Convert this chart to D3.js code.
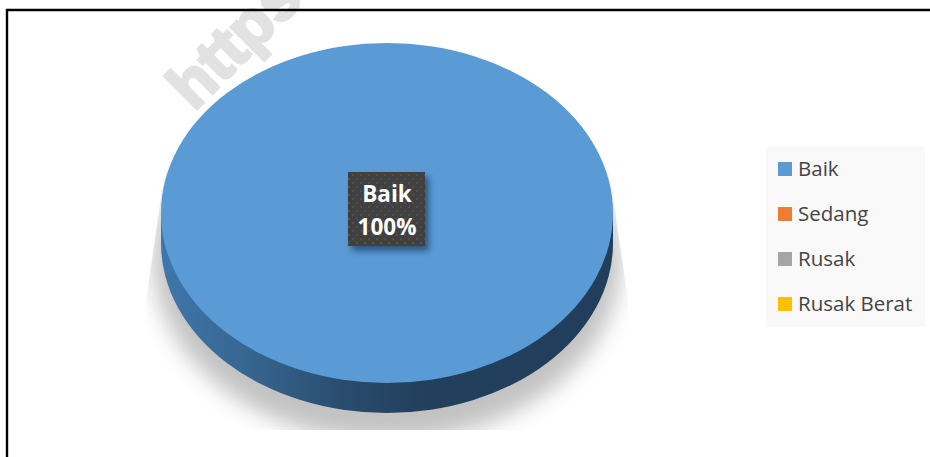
<!DOCTYPE html>
<html>
<head>
<meta charset="utf-8">
<script src="https://cdn.jsdelivr.net/npm/d3@7"></script>
<style>
html, body { margin: 0; padding: 0; background: #fff; }
svg { display: block; }
text { font-family: "Open Sans", sans-serif; }
</style>
</head>
<body>
<div id="chart"></div>
<script>
const categories = ['Baik', 'Sedang', 'Rusak', 'Rusak Berat'];
const values = [100, 0, 0, 0];
const colors = ['#5b9bd5', '#ed7d31', '#a5a5a5', '#ffc000'];

const width = 930, height = 457;
const cx = 387, cy = 213, rx = 226, ry = 170, depth = 30;

const svg = d3.select('#chart').append('svg')
    .attr('width', width)
    .attr('height', height);

const defs = svg.append('defs');

const sideStops = [[0, '#3f77ab'], [0.2, '#36658f'], [0.42, '#284a6b'], [0.6, '#223f5c'], [1, '#213f5c']];

const sideGrad = defs.append('linearGradient')
    .attr('id', 'side-grad')
    .attr('gradientUnits', 'userSpaceOnUse')
    .attr('x1', cx - rx).attr('x2', cx + rx).attr('y1', 0).attr('y2', 0);
// the scaled slices need the same gradient in their own coordinates
const localGrad = defs.append('linearGradient')
    .attr('id', 'side-grad-local')
    .attr('gradientUnits', 'userSpaceOnUse')
    .attr('x1', -rx).attr('x2', rx).attr('y1', 0).attr('y2', 0);
sideStops.forEach(s => {
    sideGrad.append('stop').attr('offset', s[0]).attr('stop-color', s[1]);
    localGrad.append('stop').attr('offset', s[0]).attr('stop-color', s[1]);
});

defs.append('filter').attr('id', 'shadow-blur')
    .attr('x', '-20%').attr('y', '-20%').attr('width', '140%').attr('height', '140%')
    .append('feGaussianBlur').attr('stdDeviation', 11);

const labelShadow = defs.append('filter').attr('id', 'label-shadow')
    .attr('x', '-30%').attr('y', '-30%').attr('width', '160%').attr('height', '160%');
labelShadow.append('feDropShadow')
    .attr('dx', 4).attr('dy', 5).attr('stdDeviation', 3)
    .attr('flood-color', '#1c3f63').attr('flood-opacity', 0.75);

const dots = defs.append('pattern').attr('id', 'dots')
    .attr('width', 8).attr('height', 8)
    .attr('patternUnits', 'userSpaceOnUse');
dots.append('rect').attr('width', 8).attr('height', 8).attr('fill', '#404040');
dots.append('circle').attr('cx', 2).attr('cy', 2).attr('r', 1).attr('fill', '#555555');
dots.append('circle').attr('cx', 6).attr('cy', 6).attr('r', 1).attr('fill', '#555555');

defs.append('clipPath').attr('id', 'shadow-clip')
    .append('path')
    .attr('d', `M${cx - 222},170 L${cx - 241},300 L${cx - 241},430 L${cx + 241},430 L${cx + 241},300 L${cx + 222},170 Z`);

// watermark sits behind everything
svg.append('text')
    .attr('transform', 'translate(194,112) rotate(-45)')
    .attr('fill', '#e2e2e2')
    .attr('stroke', '#e2e2e2')
    .attr('stroke-width', 3)
    .style('font-family', '"Liberation Sans", sans-serif')
    .style('font-weight', 700)
    .style('font-size', '64px')
    .text('https');

// frame: top and left only
svg.append('path')
    .attr('d', `M7,${height} V10 H${width}`)
    .attr('fill', 'none')
    .attr('stroke', '#000')
    .attr('stroke-width', 2.4);

const pie = d3.pie().sort(null).value(d => d);
const arcs = pie(values);
const arc = d3.arc().innerRadius(0).outerRadius(rx);
const yScale = ry / rx;

// soft shadow under the disc
svg.append('g')
    .attr('clip-path', 'url(#shadow-clip)')
    .append('ellipse')
    .attr('cx', cx).attr('cy', cy + depth + 16)
    .attr('rx', rx + 8).attr('ry', ry + 12)
    .attr('fill', '#c2c2c2')
    .attr('filter', 'url(#shadow-blur)');

// disc edge: same slices pushed down, joined by a band
const side = svg.append('g');
side.append('rect')
    .attr('x', cx - rx).attr('y', cy)
    .attr('width', rx * 2).attr('height', depth)
    .attr('fill', 'url(#side-grad)');
side.selectAll('path').data(arcs).join('path')
    .attr('transform', `translate(${cx},${cy + depth}) scale(1,${yScale})`)
    .attr('d', arc)
    .attr('fill', 'url(#side-grad-local)');

// top of the disc
svg.append('g')
    .attr('transform', `translate(${cx},${cy}) scale(1,${yScale})`)
    .selectAll('path').data(arcs).join('path')
    .attr('d', arc)
    .attr('fill', (d, i) => colors[i]);

// data label
const labelW = 77, labelH = 74;
const first = arcs[0];
const label = svg.append('g').attr('transform', `translate(${cx},${cy - 4})`);
label.append('rect')
    .attr('x', -labelW / 2 - 0.5).attr('y', -labelH / 2)
    .attr('width', labelW).attr('height', labelH)
    .attr('fill', 'url(#dots)')
    .attr('filter', 'url(#label-shadow)');
label.append('text')
    .attr('text-anchor', 'middle').attr('y', -7)
    .attr('fill', '#fff')
    .style('font-size', '22.5px').style('font-weight', 700)
    .text(categories[0]);
label.append('text')
    .attr('text-anchor', 'middle').attr('y', 26)
    .attr('fill', '#fff')
    .style('font-size', '22.5px').style('font-weight', 700)
    .text(`${Math.round((first.endAngle - first.startAngle) / (2 * Math.PI) * 100)}%`);

// legend
svg.append('rect')
    .attr('x', 766).attr('y', 146)
    .attr('width', 159).attr('height', 181)
    .attr('fill', '#f9f9f9');

const legendY = d3.scalePoint().domain(categories).range([169, 304]);
const colorScale = d3.scaleOrdinal().domain(categories).range(colors);

const item = svg.selectAll('.legend-item').data(categories).join('g')
    .attr('class', 'legend-item')
    .attr('transform', d => `translate(778,${legendY(d)})`);
item.append('rect')
    .attr('y', -7).attr('width', 14).attr('height', 14)
    .attr('fill', d => colorScale(d));
item.append('text')
    .attr('x', 20).attr('y', 7)
    .attr('fill', '#444')
    .style('font-size', '20.5px')
    .text(d => d);
</script>
</body>
</html>
